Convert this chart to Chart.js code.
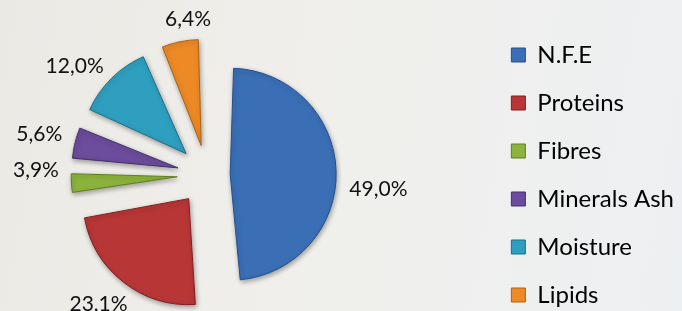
<!DOCTYPE html>
<html>
<head>
<meta charset="utf-8">
<script src="https://cdn.jsdelivr.net/npm/chart.js@4.4.0/dist/chart.umd.min.js"></script>
<style>
  html, body { margin: 0; padding: 0; }
  body {
    position: relative;
    width: 682px; height: 311px; overflow: hidden;
    background: linear-gradient(100deg, #eae9e4 0%, #f0efeb 45%, #edf0f2 100%);
  }
  /* canvas is wider/taller than the page so the pie sits left of the
     legend's natural centre, like the original slide */
  #composition { position: absolute; left: -73px; top: 0; display: block; }
</style>
</head>
<body>
<canvas id="composition" width="757" height="350"></canvas>
<script>
// --- Data ---
const categories = ['N.F.E', 'Proteins', 'Fibres', 'Minerals Ash', 'Moisture', 'Lipids'];
const shares = [49.0, 23.1, 3.9, 5.6, 12.0, 6.4];

// --- Style ---
const fillColors = ['#3a6fb6', '#b93636', '#8cb43c', '#6c4c9c', '#2f9fc0', '#ee8a26'];
const edgeColors = ['#22508e', '#7e1f1f', '#5f7f22', '#46306e', '#1b6f88', '#b0600f'];
const explode = [92, 120, 120, 120, 120, 120];   // arc offset (drawn at 1/4)
const labelNudge = [6.5, 2, 5, 0, -6, 4.5];      // degrees, clockwise

const pct = v => v.toFixed(1).replace('.', ',') + '%';

// Chart.js grows small exploded slices; keep every slice at the same radius,
// add a soft shadow, then write the percentages outside each slice.
const pieExtras = {
    id: 'pieExtras',
    beforeDatasetsDraw(chart) {
        const meta = chart.getDatasetMeta(0);
        const base = meta.controller.outerRadius;
        meta.data.forEach(arc => {
            const push = (arc.options.offset || 0) / 4;
            const fix = 1 - Math.sin(Math.min(Math.PI, arc.circumference));
            arc.outerRadius = base - push * fix;
        });
        const ctx = chart.ctx;
        ctx.save();
        ctx.shadowColor = 'rgba(0,0,0,0.35)';
        ctx.shadowBlur = 5;
        ctx.shadowOffsetX = 1;
        ctx.shadowOffsetY = 2;
    },
    afterDatasetsDraw(chart) {
        const ctx = chart.ctx;
        ctx.restore();

        const meta = chart.getDatasetMeta(0);
        const push = Math.max(...explode) / 4;
        ctx.save();
        ctx.font = '21px Lato';
        ctx.fillStyle = '#111';
        ctx.textAlign = 'center';
        ctx.textBaseline = 'middle';
        meta.data.forEach((arc, i) => {
            const mid = (arc.startAngle + arc.endAngle) / 2 + labelNudge[i] * Math.PI / 180;
            const dx = Math.cos(mid), dy = Math.sin(mid);
            // label box ~58x22, its near edge just off the slice
            const dist = meta.controller.outerRadius + push + 6 + Math.abs(dx) * 29 + Math.abs(dy) * 11;
            ctx.fillText(pct(shares[i]), arc.x + dx * dist, arc.y + dy * dist);
        });
        ctx.restore();
    }
};

new Chart(document.getElementById('composition'), {
    type: 'pie',
    data: {
        labels: categories,
        datasets: [{
            data: shares,
            backgroundColor: fillColors,
            borderColor: edgeColors,
            borderWidth: 1,
            offset: explode,
            radius: 106
        }]
    },
    options: {
        responsive: false,
        animation: false,
        devicePixelRatio: 1,
        layout: { padding: 0 },
        plugins: {
            tooltip: { enabled: false },
            legend: {
                position: 'right',
                labels: {
                    boxWidth: 14,
                    boxHeight: 14,
                    padding: 24,
                    color: '#000',
                    font: { family: 'Lato', size: 24 }
                }
            }
        }
    },
    plugins: [pieExtras]
});
</script>
</body>
</html>
